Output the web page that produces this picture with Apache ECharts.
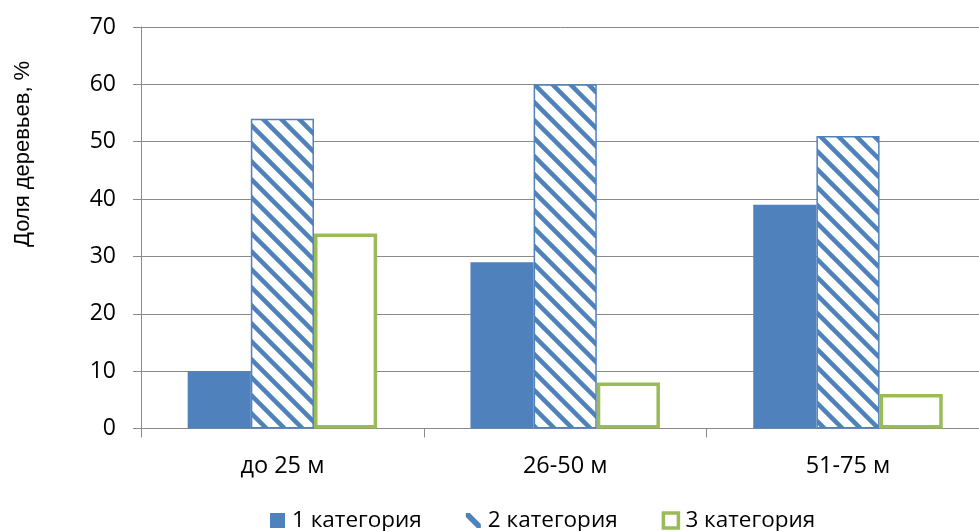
<!DOCTYPE html>
<html>
<head>
<meta charset="utf-8">
<script src="https://cdn.jsdelivr.net/npm/echarts@6/dist/echarts.min.js"></script>
<style>
html,body{margin:0;padding:0;background:#fff;}
#chart{width:979px;height:531px;}
</style>
</head>
<body>
<div id="chart"></div>
<script>
var categories = ['до 25 м', '26-50 м', '51-75 м'];
var seriesNames = ['1 категория', '2 категория', '3 категория'];
var cat1 = [10, 29, 39];
var cat2 = [54, 60, 51];
var cat3 = [34, 8, 6];
var yTitle = 'Доля деревьев, %';

var BLUE = '#4F81BD';
var GREEN = '#9BBB59';
var GRID = '#8A8A8A';
var FONT = '"Open Sans", "Noto Sans", sans-serif';

function makeHatch() {
  var s = 18;
  var c = document.createElement('canvas');
  c.width = s; c.height = s;
  var g = c.getContext('2d');
  g.fillStyle = '#fff';
  g.fillRect(0, 0, s, s);
  g.strokeStyle = BLUE;
  g.lineWidth = 4.5;
  g.beginPath();
  g.moveTo(-5, -5); g.lineTo(s + 5, s + 5);
  g.moveTo(-5, s - 5); g.lineTo(5, s + 5);
  g.moveTo(s - 5, -5); g.lineTo(s + 5, 5);
  g.stroke();
  return c;
}
var hatch = makeHatch();

var chart = echarts.init(document.getElementById('chart'), null, {renderer: 'canvas'});
chart.setOption({
  animation: false,
  backgroundColor: '#fff',
  grid: {left: 141, right: -10.4, top: 27, bottom: 102.5, containLabel: false, outerBoundsMode: 'none'},
  graphic: [{
    type: 'text',
    x: 12, y: 247,
    rotation: Math.PI / 2,
    style: {
      text: yTitle,
      font: '22px "Liberation Sans", Arial, sans-serif',
      fill: '#000'
    }
  }],
  legend: {
    left: 265,
    top: 504,
    padding: 5,
    itemWidth: 15,
    itemHeight: 15,
    itemGap: 44,
    textStyle: {fontFamily: FONT, fontSize: 22.5, lineHeight: 22, color: '#000', padding: [0, 0, 0, 2]},
    data: [
      {name: seriesNames[0], icon: 'rect', itemStyle: {color: BLUE, borderWidth: 0}},
      {name: seriesNames[1], icon: 'path://M0,2 L4,2 L15,13 L15,17 L11,17 L0,6 Z', itemStyle: {color: BLUE, borderWidth: 0}},
      {name: seriesNames[2], icon: 'rect', itemStyle: {color: '#fff', borderColor: GREEN, borderWidth: 3.5}}
    ]
  },
  xAxis: {
    type: 'category',
    data: categories,
    boundaryGap: true,
    axisLine: {lineStyle: {color: GRID, width: 1}},
    axisTick: {show: true, length: 9, lineStyle: {color: GRID}},
    axisLabel: {fontFamily: FONT, fontSize: 23.5, lineHeight: 23, color: '#000', margin: 26}
  },
  yAxis: {
    type: 'value',
    min: 0, max: 70, interval: 10,
    axisLine: {show: true, lineStyle: {color: GRID, width: 1}},
    axisTick: {show: true, length: 8, lineStyle: {color: GRID}},
    splitLine: {show: true, lineStyle: {color: GRID, width: 1}},
    axisLabel: {fontFamily: FONT, fontSize: 23, color: '#000', margin: 25}
  },
  series: [
    {
      name: seriesNames[0], type: 'bar', data: cat1,
      barGap: '0%', barCategoryGap: '33%',
      itemStyle: {color: BLUE}
    },
    {
      name: seriesNames[1], type: 'bar', data: cat2,
      barGap: '0%', barCategoryGap: '33%',
      itemStyle: {color: {image: hatch, repeat: 'repeat'}, borderColor: BLUE, borderWidth: 1.5}
    },
    {
      name: seriesNames[2], type: 'bar', data: cat3,
      barGap: '0%', barCategoryGap: '33%',
      itemStyle: {color: '#fff', borderColor: GREEN, borderWidth: 3.5}
    }
  ]
});
</script>
</body>
</html>
